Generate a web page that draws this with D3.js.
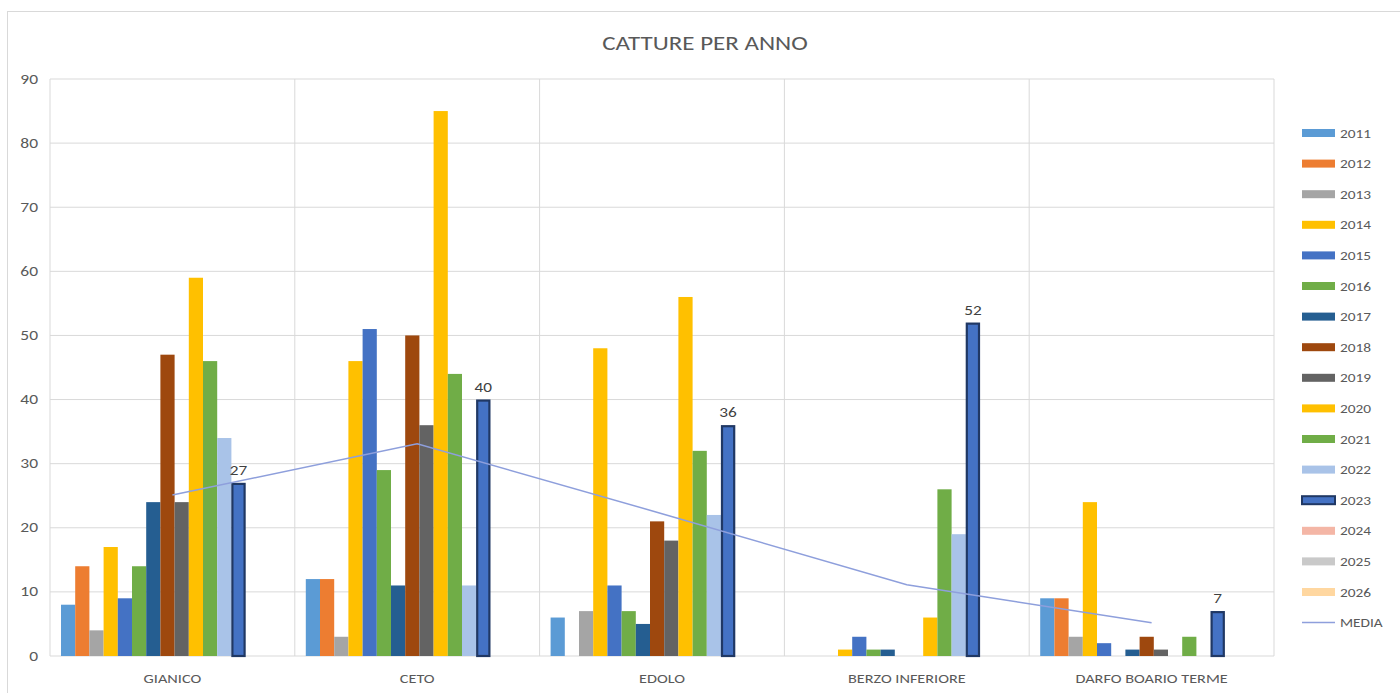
<!DOCTYPE html>
<html><head><meta charset="utf-8">
<script src="https://cdn.jsdelivr.net/npm/d3@7"></script>
<style>body{margin:0;background:#fff;font-family:Carlito,Calibri,"Open Sans","Liberation Sans",sans-serif}</style>
</head><body><svg id="c" width="1400" height="693"></svg>
<script>
const categories = ["GIANICO","CETO","EDOLO","BERZO INFERIORE","DARFO BOARIO TERME"];
const years = ["2011","2012","2013","2014","2015","2016","2017","2018","2019","2020","2021","2022","2023","2024","2025","2026"];
const v2011 = [8,12,6,0,9];
const v2012 = [14,12,0,0,9];
const v2013 = [4,3,7,0,3];
const v2014 = [17,46,48,1,24];
const v2015 = [9,51,11,3,2];
const v2016 = [14,29,7,1,0];
const v2017 = [24,11,5,1,1];
const v2018 = [47,50,21,0,3];
const v2019 = [24,36,18,0,1];
const v2020 = [59,85,56,6,0];
const v2021 = [46,44,32,26,3];
const v2022 = [34,11,22,19,0];
const v2023 = [27,40,36,52,7];
const v2024 = [0,0,0,0,0];
const v2025 = [0,0,0,0,0];
const v2026 = [0,0,0,0,0];
const media = [25.1,33.1,22.2,11.1,5.2];
const yTicks = [0,10,20,30,40,50,60,70,80,90];
const colors = ["#5B9BD5","#ED7D31","#A5A5A5","#FFC000","#4472C4","#70AD47","#255E91","#9E480E","#636363","#FFC000","#70AD47","#A9C3E8","#4472C4","#F4B6A6","#C9C9C9","#FFD7A0"];
const series = [v2011,v2012,v2013,v2014,v2015,v2016,v2017,v2018,v2019,v2020,v2021,v2022,v2023,v2024,v2025,v2026];

const svg = d3.select("#c");
svg.append("rect").attr("x",7.5).attr("y",11.5).attr("width",1400).attr("height",700).attr("fill","#fff").attr("stroke","#d9d9d9");

// stretched text helper
function stext(parent,x,y,txt,size,anchor,fill,sx){
  parent.append("g").attr("transform",`translate(${x},${y}) scale(${sx},1)`)
    .append("text").attr("text-anchor",anchor).attr("font-size",size).attr("fill",fill).text(txt);
}

const L=50, R=1274, T=79, B=656;
const x0 = d3.scaleBand().domain(categories).range([L,R]).paddingInner(0).paddingOuter(0);
const x1 = d3.scaleBand().domain(years).range([11,11+16*14.2]).padding(0);
const y = d3.scaleLinear().domain([0,90]).range([B,T]);

svg.append("g").selectAll("line").data(yTicks).join("line")
 .attr("x1",L).attr("x2",R).attr("y1",d=>y(d)).attr("y2",d=>y(d)).attr("stroke","#d9d9d9").attr("stroke-width",1);
svg.append("g").selectAll("line").data(categories).join("line")
 .attr("x1",d=>x0(d)+x0.bandwidth()).attr("x2",d=>x0(d)+x0.bandwidth()).attr("y1",T).attr("y2",B).attr("stroke","#d9d9d9");
svg.append("line").attr("x1",L).attr("x2",L).attr("y1",T).attr("y2",B).attr("stroke","#d9d9d9");

const yl = svg.append("g");
yTicks.forEach(t=>stext(yl,38,y(t)+4.5,t,14,"end","#595959",1.25));

series.forEach((s,i)=>{
  const g = svg.append("g");
  const b = i===12;
  g.selectAll("rect").data(s.map((v,j)=>({v,c:categories[j]}))).join("rect")
   .filter(d=>d.v>0)
   .attr("x",d=>x0(d.c)+x1(years[i]) + (b?1:0))
   .attr("width",x1.bandwidth() - (b?2:0))
   .attr("y",d=>y(d.v)+(b?1:0))
   .attr("height",d=>y(0)-y(d.v)-(b?1:0))
   .attr("fill",colors[i])
   .attr("stroke",b?"#203864":"none")
   .attr("stroke-width",b?2.2:0);
});

const line = d3.line().x((d,i)=>x0(categories[i])+x0.bandwidth()/2).y(d=>y(d));
svg.append("path").datum(media).attr("d",line).attr("fill","none").attr("stroke","#8E9FDC").attr("stroke-width",1.5);

const dl = svg.append("g");
v2023.forEach((v,j)=>stext(dl,x0(categories[j])+x1("2023")+x1.bandwidth()/2,y(v)-8,v,15,"middle","#404040",1.15));

const xl = svg.append("g");
categories.forEach(c=>stext(xl,x0(c)+x0.bandwidth()/2,683,c,13,"middle","#595959",1.25));

stext(svg,705,50,"CATTURE PER ANNO",20,"middle","#595959",1.25);

const leg = svg.append("g");
const legItems = years.concat(["MEDIA"]);
legItems.forEach((t,i)=>{
  const yy = 133 + i*30.6;
  if(t==="MEDIA"){
    leg.append("line").attr("x1",1302).attr("x2",1335).attr("y1",yy).attr("y2",yy).attr("stroke","#8E9FDC").attr("stroke-width",1.5);
  } else {
    leg.append("rect").attr("x",1302).attr("y",yy-4).attr("width",33).attr("height",8).attr("fill",colors[i])
      .attr("stroke",i===12?"#203864":"none").attr("stroke-width",i===12?2:0);
  }
  stext(leg,1340,yy+4.5,t,13,"start","#595959",1.18);
});
</script></body></html>
